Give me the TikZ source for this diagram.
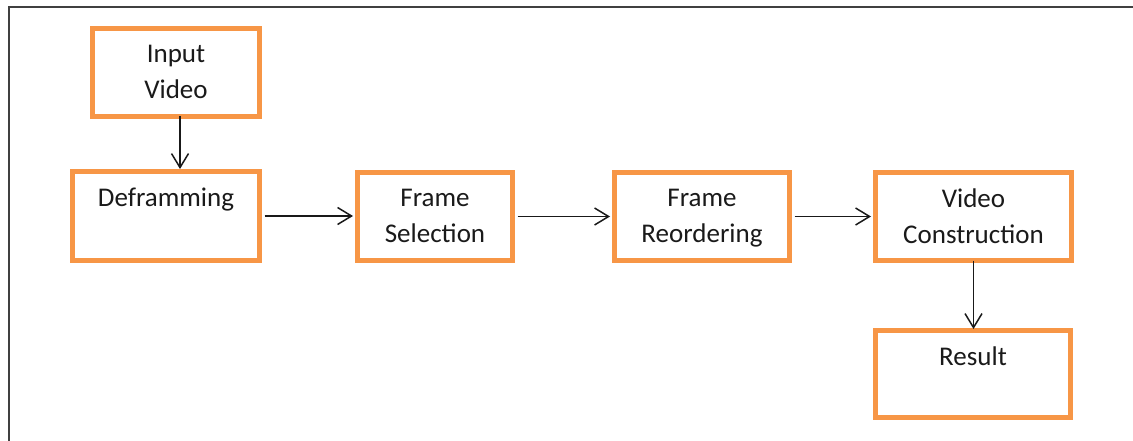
\documentclass[tikz,border=0pt]{standalone}
\usepackage{fontspec}
\setmainfont{Carlito}
\usetikzlibrary{arrows.meta}
\definecolor{boxorange}{HTML}{F79646}
\definecolor{txt}{HTML}{1A1A1A}
\begin{document}
\begin{tikzpicture}[x=1pt,y=-1pt,
  box/.style={draw=boxorange,line width=5pt,fill=white,inner sep=0pt,minimum width=#1,minimum height=88pt},
  lbl/.style={anchor=north,align=center,inner sep=0pt,text=txt,font=\fontsize{27}{36}\selectfont},
  arr/.style={draw=black!90,line width=1.5pt,-{Straight Barb[length=14pt,width=17pt,line width=1.5pt]}}]
\useasboundingbox (0,0) rectangle (1133,441);
\draw[line width=2pt,black!75] (9,442) -- (9,7) -- (1134,7);
% boxes
\node[box=167pt,minimum height=88pt] (iv) at (176,72.5) {};
\node[box=187pt,minimum height=89pt] (de) at (166,216) {};
\node[box=155pt] (fs) at (435,216.5) {};
\node[box=175pt] (fr) at (702,216.5) {};
\node[box=196pt] (vc) at (973.5,216.5) {};
\node[box=195pt,minimum height=87pt] (re) at (973,374) {};
% labels
\node[lbl] (tiv) at ([yshift=-19pt]iv.north) {Input\\Video};
\node[lbl] (tde) at ([yshift=-19pt]de.north) {Deframming};
\node[lbl] (tfs) at ([yshift=-19pt]fs.north) {Frame\\Selection};
\node[lbl] (tfr) at ([yshift=-19pt]fr.north) {Frame\\Reordering};
\node[lbl] (tvc) at ([yshift=-19pt]vc.north) {Video\\Construction};
\node[lbl] (tre) at ([yshift=-19pt]re.north) {Result};
% arrows
\draw[arr] ([xshift=4pt,yshift=2.5pt]iv.south) -- ([xshift=4pt]iv.south |- de.north);
\draw[arr] ([xshift=2.5pt]de.east) -- ([xshift=-2pt]fs.west |- de.east);
\draw[arr] ([xshift=2.5pt]fs.east) -- ([xshift=-2pt]fr.west);
\draw[arr] ([xshift=2.5pt]fr.east) -- ([xshift=-2pt]vc.west);
\draw[arr] ([yshift=2.5pt]vc.south) -- ([yshift=-1pt]vc.south |- re.north);
\end{tikzpicture}
\end{document}
